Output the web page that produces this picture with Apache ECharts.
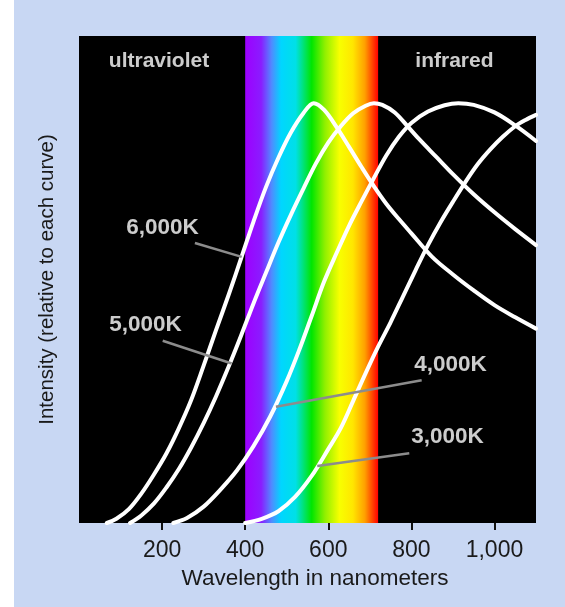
<!DOCTYPE html>
<html><head><meta charset="utf-8">
<script src="https://cdn.jsdelivr.net/npm/echarts@6/dist/echarts.min.js"></script>
<style>
html,body{margin:0;padding:0;background:#fff}
#c{width:565px;height:607px;background:linear-gradient(to right,#ffffff 14px,#c8d7f3 14px)}
</style>
</head><body><div id="c"></div>
<script>
// ---- data ----
const xTicks = [200, 400, 600, 800, 1000];
const xTickLabels = ['200', '400', '600', '800', '1,000'];
const curveNames = ['6,000K', '5,000K', '4,000K', '3,000K'];
const curve6000 = [[67,0],[90,1],[120,3.3],[150,7],[180,11.5],[210,16.5],[240,22.5],[270,29.3],[300,37.5],[330,46],[360,54.3],[390,63],[420,71.8],[450,80],[480,87],[510,93],[540,97.6],[565,100],[590,98.4],[620,94.3],[650,89.6],[680,84.8],[710,80.2],[740,76],[770,72.4],[800,69],[850,63.4],[900,59.2],[950,55.4],[1000,51.9],[1050,49],[1100,46.3]];
const curve5000 = [[123,0],[150,1.8],[180,4.6],[210,8.4],[240,12.8],[270,18],[300,23.8],[330,30.2],[360,37.2],[390,44.6],[420,52.3],[450,59.6],[480,66.8],[510,73.4],[540,79.6],[570,85.6],[600,90.6],[630,94.5],[660,97.6],[690,99.4],[710,100],[730,99.6],[760,97.8],[790,94.6],[820,91.3],[860,87.2],[900,83.1],[950,78.3],[1000,74],[1050,70],[1100,66.2]];
const curve4000 = [[227,0],[260,1.2],[300,3.9],[340,7.9],[380,12.5],[420,18.3],[460,25.3],[500,33.8],[530,41.2],[560,49.3],[590,57.5],[620,64.3],[650,70.8],[680,76.6],[710,82.2],[740,87.6],[770,92],[800,95.3],[840,98],[880,99.5],[913,100],[950,99.6],[1000,97.8],[1050,94.7],[1100,91]];
const curve3000 = [[400,0],[440,1],[480,2.8],[520,6.2],[560,11.2],[600,17.6],[630,22.6],[660,29.1],[690,35.7],[720,42],[750,47.8],[780,54],[810,60.2],[840,66.2],[870,71.6],[900,76.5],[930,81.2],[960,85.5],[990,89],[1020,92],[1050,94.5],[1075,96],[1100,97.2]];
const labelPos = [[201,70.2],[160,47.1],[894,37.6],[887,20.5]];
const leaderLines = [
  [[279,66.7],[391.6,63.4]],
  [[201.4,43.4],[367.5,38]],
  [[824.8,34],[474,27.7]],
  [[795,16.6],[573.5,13.6]]
];
const spectrumRange = [400, 720];
const regionNames = ['ultraviolet', 'infrared'];
const regionPos = [[192.5,110],[903.7,110]];

// ---- chart ----
const chart = echarts.init(document.getElementById('c'), null, {renderer: 'canvas'});
const FONT = '"Liberation Sans", Arial, sans-serif';
const curves = [curve6000, curve5000, curve4000, curve3000];

const spectrumGradient = new echarts.graphic.LinearGradient(0, 0, 1, 0, [
  {offset: 0.0, color: '#9d00ff'},
  {offset: 0.12, color: '#8a1cff'},
  {offset: 0.2, color: '#4f8cff'},
  {offset: 0.27, color: '#00d6ff'},
  {offset: 0.38, color: '#00e0e6'},
  {offset: 0.5, color: '#00e600'},
  {offset: 0.6, color: '#90f000'},
  {offset: 0.71, color: '#f8ff00'},
  {offset: 0.81, color: '#ffe600'},
  {offset: 0.9, color: '#ffa000'},
  {offset: 1.0, color: '#ff0000'}
]);

const series = [];
series.push({
  type: 'line', data: [], z: 1, silent: true,
  markArea: {
    silent: true,
    itemStyle: {color: spectrumGradient, borderWidth: 0},
    data: [[{xAxis: spectrumRange[0]}, {xAxis: spectrumRange[1]}]]
  }
});
curves.forEach((c, i) => {
  series.push({
    name: curveNames[i], type: 'line', data: c, z: 3,
    showSymbol: false, smooth: 0.35,
    lineStyle: {color: '#ffffff', width: 4, cap: 'round', join: 'round'}, silent: true, animation: false
  });
});
series.push({
  type: 'lines', coordinateSystem: 'cartesian2d', z: 4, silent: true,
  lineStyle: {color: '#8c8c8c', width: 2.5, opacity: 1},
  data: leaderLines.map(l => ({coords: l}))
});
const labelStyleBase = {show: true, position: 'inside', color: '#ffffff', fontFamily: FONT,
  fontWeight: 'bold', textBorderWidth: 0, formatter: p => p.data.name};
series.push({
  type: 'scatter', z: 5, symbolSize: 1, itemStyle: {color: '#000000'}, silent: true,
  label: Object.assign({}, labelStyleBase, {fontSize: 22.5}),
  data: labelPos.map((p, i) => ({value: p, name: curveNames[i]}))
});
series.push({
  type: 'scatter', z: 5, symbolSize: 1, itemStyle: {color: '#000000'}, silent: true,
  label: Object.assign({}, labelStyleBase, {fontSize: 21}),
  data: regionPos.map((p, i) => ({value: p, name: regionNames[i]}))
});

chart.setOption({
  animation: false,
  backgroundColor: 'transparent',
  grid: {left: 79, right: 29, top: 36, bottom: 84, show: true, backgroundColor: '#000000', borderWidth: 0},
  xAxis: {
    type: 'value', min: 0, max: 1100,
    name: 'Wavelength in nanometers', nameLocation: 'middle', nameGap: 44,
    nameTextStyle: {fontSize: 22.5, color: '#1a1a1a', fontFamily: FONT, padding: [0, 0, 0, 15]},
    axisLine: {show: false},
    axisTick: {show: true, length: 7, lineStyle: {color: '#111', width: 2}, customValues: xTicks},
    axisLabel: {customValues: xTicks, fontSize: 23, color: '#1a1a1a', fontFamily: FONT, margin: 16,
      formatter: v => xTickLabels[xTicks.indexOf(v)]},
    splitLine: {show: false}
  },
  yAxis: {
    type: 'value', min: 0, max: 116,
    name: 'Intensity (relative to each curve)', nameLocation: 'middle', nameRotate: 90, nameGap: 21,
    nameTextStyle: {fontSize: 20.5, color: '#1a1a1a', fontFamily: FONT},
    axisLine: {show: false}, axisTick: {show: false}, axisLabel: {show: false}, splitLine: {show: false}
  },
  series: series
});
</script>
</body></html>
